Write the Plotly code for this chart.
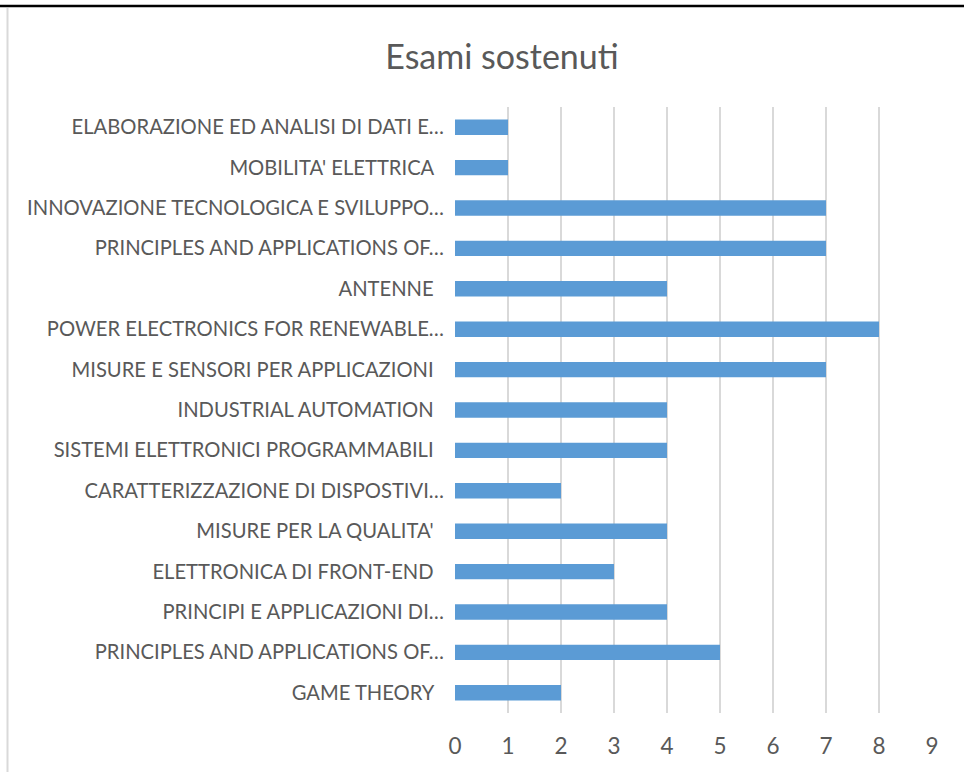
import plotly.graph_objects as go

# Exams taken per course (listed top to bottom)
courses = [
    "ELABORAZIONE ED ANALISI DI DATI E…",
    "MOBILITA' ELETTRICA\u00a0\u00a0",
    "INNOVAZIONE TECNOLOGICA E SVILUPPO…",
    "PRINCIPLES AND APPLICATIONS OF…",
    "ANTENNE\u00a0\u00a0",
    "POWER ELECTRONICS FOR RENEWABLE…",
    "MISURE E SENSORI PER APPLICAZIONI\u00a0\u00a0",
    "INDUSTRIAL AUTOMATION\u00a0\u00a0",
    "SISTEMI ELETTRONICI PROGRAMMABILI\u00a0\u00a0",
    "CARATTERIZZAZIONE DI DISPOSTIVI…",
    "MISURE PER LA QUALITA'\u00a0\u00a0",
    "ELETTRONICA DI FRONT-END\u00a0\u00a0",
    "PRINCIPI E APPLICAZIONI DI…",
    "PRINCIPLES AND APPLICATIONS OF…",
    "GAME THEORY\u00a0\u00a0",
]
exams = [1, 1, 7, 7, 4, 8, 7, 4, 4, 2, 4, 3, 4, 5, 2]
x_ticks = list(range(0, 10))

positions = list(range(len(courses)))

W, H = 964, 772
L, R, T, B = 455, 932, 107, 713

fig = go.Figure(
    go.Bar(
        x=exams,
        y=positions,
        orientation="h",
        marker=dict(color="#5b9bd5", line=dict(width=0)),
        width=0.38,
        hoverinfo="x+y",
    )
)

font_family = "Lato, 'Open Sans', sans-serif"

fig.update_layout(
    width=W,
    height=H,
    margin=dict(l=L, r=W - R, t=T, b=H - B),
    paper_bgcolor="white",
    plot_bgcolor="white",
    showlegend=False,
    title=dict(
        text="Esami sostenuti",
        x=502 / W,
        xanchor="center",
        y=1 - 57 / H,
        yanchor="middle",
        font=dict(family=font_family, size=34, color="#595959"),
    ),
    font=dict(family=font_family, color="#595959"),
)

fig.update_xaxes(
    range=[0, 9],
    tickvals=x_ticks,
    ticktext=[str(v) for v in x_ticks],
    showgrid=True,
    gridcolor="#d9d9d9",
    gridwidth=1.5,
    zeroline=False,
    showline=False,
    ticks="outside",
    ticklen=13,
    tickcolor="rgba(0,0,0,0)",
    tickfont=dict(size=22.5, color="#595959"),
    fixedrange=True,
)

fig.update_yaxes(
    range=[len(courses) - 0.5, -0.5],
    tickvals=positions,
    ticktext=courses,
    showgrid=False,
    zeroline=False,
    showline=False,
    ticks="outside",
    ticklen=6,
    tickcolor="rgba(0,0,0,0)",
    tickfont=dict(size=20.2, color="#595959"),
    fixedrange=True,
)

# Chart frame: dark rule along the top, light rule down the left side
def px_to_paper_x(px):
    return (px - L) / (R - L)

def px_to_paper_y(py):
    return (B - py) / (B - T)

fig.add_shape(
    type="line", xref="paper", yref="paper",
    x0=px_to_paper_x(0), x1=px_to_paper_x(W),
    y0=px_to_paper_y(6), y1=px_to_paper_y(6),
    line=dict(color="black", width=2.5),
)
fig.add_shape(
    type="line", xref="paper", yref="paper",
    x0=px_to_paper_x(7.5), x1=px_to_paper_x(7.5),
    y0=px_to_paper_y(8), y1=px_to_paper_y(H),
    line=dict(color="#d9d9d9", width=2),
)

fig.write_html("out.html")
